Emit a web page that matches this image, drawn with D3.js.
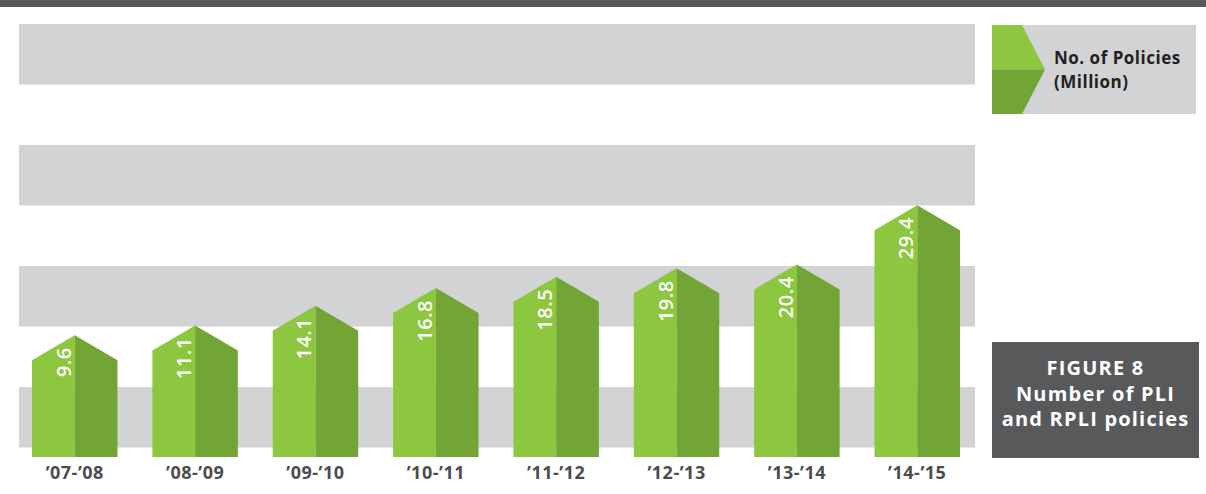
<!DOCTYPE html>
<html>
<head>
<meta charset="utf-8">
<script src="https://cdn.jsdelivr.net/npm/d3@7"></script>
<style>
  html, body { margin: 0; padding: 0; background: #fff; }
  svg { display: block; font-family: "Open Sans", "Noto Sans", sans-serif; }
</style>
</head>
<body>
<div id="chart"></div>
<script>
// Chart data
const years = ["\u201907-\u201908", "\u201908-\u201909", "\u201909-\u201910", "\u201910-\u201911",
               "\u201911-\u201912", "\u201912-\u201913", "\u201913-\u201914", "\u201914-\u201915"];
const policies = [9.6, 11.1, 14.1, 16.8, 18.5, 19.8, 20.4, 29.4];
const legendLines = ["No. of Policies", "(Million)"];
const figureLines = ["FIGURE 8", "Number of PLI", "and RPLI policies"];

const width = 1206, height = 494;
const lightGreen = "#8dc63f", darkGreen = "#72a535";
const bandGray = "#d1d3d4", darkGray = "#58595b";

const svg = d3.select("#chart").append("svg")
    .attr("width", width)
    .attr("height", height);

// Top strip
svg.append("rect")
    .attr("x", 0).attr("y", 0)
    .attr("width", width).attr("height", 7)
    .attr("fill", darkGray);

// Alternating background bands
const plotTop = 24, baseline = 457, stripeBottom = 447.5;
const stripeH = (stripeBottom - plotTop) / 7;
svg.append("g")
    .selectAll("rect")
    .data(d3.range(0, 7, 2))
    .enter()
    .append("rect")
    .attr("x", 19)
    .attr("y", i => plotTop + i * stripeH)
    .attr("width", 975 - 19)
    .attr("height", stripeH)
    .attr("fill", bandGray);

// Scales (graphic is not strictly to scale, domain offset fitted to picture)
const xScale = d3.scaleBand()
    .domain(years)
    .range([20, 972])
    .paddingInner(0.29)
    .paddingOuter(0.1);

const yScale = d3.scaleLinear()
    .domain([-5.15, 30])
    .range([baseline, baseline - 35.15 * 6.56]);

const roof = 25;

const bars = svg.append("g")
    .selectAll(".bar")
    .data(policies)
    .enter()
    .append("g")
    .attr("class", "bar");

// Left (light) half
bars.append("path")
    .attr("fill", lightGreen)
    .attr("d", (d, i) => {
        const x0 = xScale(years[i]);
        const xc = x0 + xScale.bandwidth() / 2;
        const s = yScale(d);
        return `M${x0},${baseline}L${x0},${s}L${xc},${s - roof}L${xc},${baseline}Z`;
    });

// Right (dark) half
bars.append("path")
    .attr("fill", darkGreen)
    .attr("d", (d, i) => {
        const x0 = xScale(years[i]);
        const x1 = x0 + xScale.bandwidth();
        const xc = x0 + xScale.bandwidth() / 2;
        const s = yScale(d);
        return `M${xc},${baseline}L${xc},${s - roof}L${x1},${s}L${x1},${baseline}Z`;
    });

// Value labels (rotated)
bars.append("text")
    .attr("transform", (d, i) => {
        const xc = xScale(years[i]) + xScale.bandwidth() / 2;
        return `translate(${xc - 4},${yScale(d) - roof + 12}) rotate(-90)`;
    })
    .attr("text-anchor", "end")
    .attr("fill", "#fff")
    .style("font-size", "20px")
    .style("font-weight", "600")
    .style("letter-spacing", "0.5px")
    .text(d => d.toFixed(1));

// X axis labels
const xAxis = svg.append("g")
    .attr("transform", `translate(0,${baseline})`)
    .call(d3.axisBottom(xScale).tickSize(0).tickPadding(0));
xAxis.select(".domain").remove();
xAxis.selectAll("text")
    .attr("dy", null)
    .attr("y", 22)
    .attr("fill", "#4d4d4f")
    .style("font-family", "'Open Sans', sans-serif")
    .style("font-size", "18px")
    .style("font-weight", "700")
    .style("letter-spacing", "0.5px");

// Legend
const legend = svg.append("g");
legend.append("rect")
    .attr("x", 992).attr("y", 25)
    .attr("width", 1196 - 992).attr("height", 89)
    .attr("fill", bandGray);
legend.append("path")
    .attr("fill", lightGreen)
    .attr("d", "M992,25L1022,25L1045,69.5L992,69.5Z");
legend.append("path")
    .attr("fill", darkGreen)
    .attr("d", "M992,69.5L1045,69.5L1022,114L992,114Z");
legend.selectAll(".legend-text")
    .data(legendLines)
    .enter()
    .append("text")
    .attr("class", "legend-text")
    .attr("x", 1054)
    .attr("y", (d, i) => 64 + i * 24)
    .attr("fill", "#231f20")
    .style("font-size", "17px")
    .style("font-weight", "700")
    .style("letter-spacing", "0.5px")
    .text(d => d);

// Figure caption box
const caption = svg.append("g");
caption.append("rect")
    .attr("x", 992).attr("y", 342)
    .attr("width", 1199 - 992).attr("height", 458 - 342)
    .attr("fill", darkGray);
caption.selectAll("text")
    .data(figureLines)
    .enter()
    .append("text")
    .attr("x", (992 + 1199) / 2)
    .attr("y", (d, i) => 375 + i * 25.5)
    .attr("text-anchor", "middle")
    .attr("fill", "#fff")
    .style("font-size", "20px")
    .style("font-weight", "700")
    .style("letter-spacing", "1.2px")
    .text(d => d);
</script>
</body>
</html>
